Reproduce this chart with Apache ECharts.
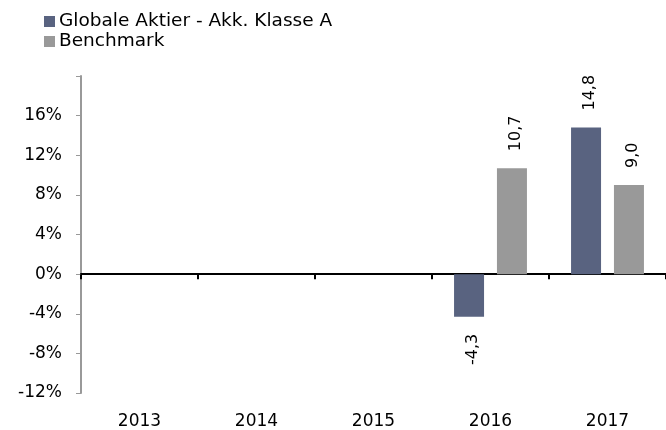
<!DOCTYPE html>
<html>
<head>
<meta charset="utf-8">
<script src="https://cdn.jsdelivr.net/npm/echarts@6/dist/echarts.min.js"></script>
<style>html,body{margin:0;padding:0;background:#fff}#c{width:666px;height:430px}</style>
</head>
<body>
<div id="c"></div>
<script>
const categories = ['2013', '2014', '2015', '2016', '2017'];
const fundName = 'Globale Aktier - Akk. Klasse A';
const benchName = 'Benchmark';
const fundValues = [null, null, null, -4.3, 14.8];
const benchValues = [null, null, null, 10.7, 9.0];
const yMin = -12, yMax = 20, yStep = 4;

const FONT = 'DejaVu Sans';
function fmt(v) { return v.toFixed(1).replace('.', ','); }
function toItems(arr) {
  return arr.map(v => {
    if (v === null) return '-';
    const neg = v < 0;
    return {
      value: v,
      label: {
        show: true,
        position: neg ? 'bottom' : 'top',
        rotate: 90,
        align: neg ? 'right' : 'left',
        verticalAlign: 'middle',
        distance: 17,
        offset: [0, 4],
        formatter: p => fmt(p.value),
        fontFamily: FONT, fontSize: 16, color: '#000'
      }
    };
  });
}

const chart = echarts.init(document.getElementById('c'), null, {renderer: 'canvas'});
chart.setOption({
  animation: false,
  textStyle: {fontFamily: FONT},
  legend: {
    orient: 'vertical', left: 44, top: 12, icon: 'rect', padding: 0,
    itemWidth: 11, itemHeight: 11, itemGap: 1,
    textStyle: {fontFamily: FONT, fontSize: 18.5, lineHeight: 19, color: '#000', padding: [0, 0, 0, -1]},
    data: [fundName, benchName]
  },
  grid: {left: 81, right: -3, top: 76, bottom: 34, containLabel: false},
  xAxis: [{
    type: 'category', data: categories,
    axisLine: {onZero: true, lineStyle: {color: '#000', width: 2}},
    axisTick: {show: true, length: 5, lineStyle: {color: '#000', width: 2}},
    axisLabel: {show: false}
  }, {
    type: 'category', data: categories, position: 'bottom',
    axisLine: {show: false, onZero: false},
    axisTick: {show: false},
    axisLabel: {show: true, margin: 20, fontFamily: FONT, fontSize: 17, color: '#000'}
  }],
  yAxis: {
    type: 'value', min: yMin, max: yMax, interval: yStep,
    axisLine: {show: true, lineStyle: {color: '#999', width: 2}},
    axisTick: {show: true, inside: false, length: 5, lineStyle: {color: '#999'}},
    splitLine: {show: false},
    axisLabel: {
      margin: 19, fontFamily: FONT, fontSize: 17, color: '#000',
      formatter: v => v === yMax ? '' : v + '%'
    }
  },
  series: [{
    name: fundName, type: 'bar', xAxisIndex: 0,
    data: toItems(fundValues), barWidth: 30, barGap: '43%',
    itemStyle: {color: '#596380'}
  }, {
    name: benchName, type: 'bar', xAxisIndex: 0,
    data: toItems(benchValues), barWidth: 30,
    itemStyle: {color: '#999999'}
  }]
});
</script>
</body>
</html>
